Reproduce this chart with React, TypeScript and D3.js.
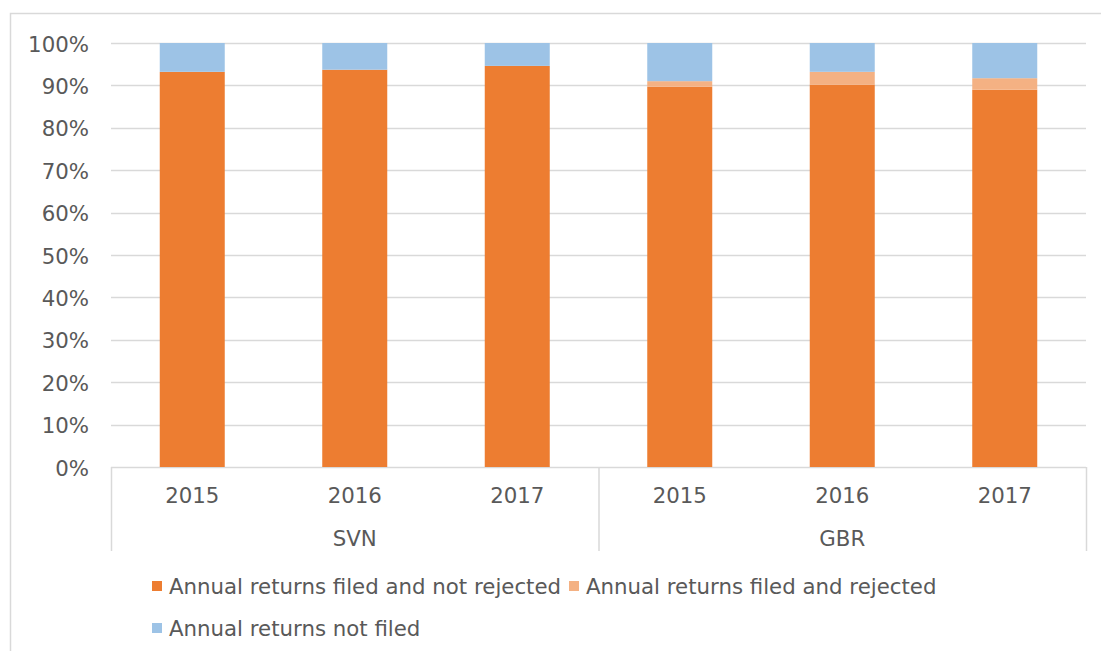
import React from "react";
import * as d3 from "d3";

const countries = ["SVN", "GBR"];
const years = ["2015", "2016", "2017"];
const seriesNames = [
  "Annual returns filed and not rejected",
  "Annual returns filed and rejected",
  "Annual returns not filed",
];
const seriesColors = ["#ED7D31", "#F4B183", "#9DC3E6"];
// values in order SVN 2015,2016,2017, GBR 2015,2016,2017
const filedNotRejected = [0.932, 0.937, 0.946, 0.897, 0.902, 0.89];
const filedRejected = [0, 0, 0, 0.013, 0.03, 0.027];
const notFiled = [0.068, 0.063, 0.054, 0.09, 0.068, 0.083];
const yTicks = [0, 0.1, 0.2, 0.3, 0.4, 0.5, 0.6, 0.7, 0.8, 0.9, 1.0];

const FONT = "'DejaVu Sans', Verdana, sans-serif";
const TEXT = "#595959";
const GRID = "#D9D9D9";
const FS = 21.3;

export default function App() {
  const keys: string[] = [];
  countries.forEach((c) => years.forEach((y) => keys.push(c + "-" + y)));
  const rows = keys.map((k, i) => ({
    key: k,
    s0: filedNotRejected[i],
    s1: filedRejected[i],
    s2: notFiled[i],
  }));
  const stacked = d3.stack<any>().keys(["s0", "s1", "s2"])(rows);

  const left = 111, right = 1086, top = 43, bottom = 467;
  const x = d3.scaleBand<string>().domain(keys).range([left, right]).paddingInner(0.6).paddingOuter(0.3);
  const y = d3.scaleLinear().domain([0, 1]).range([bottom, top]);
  const groupW = (right - left) / countries.length;

  return (
    <svg width={1101} height={651} style={{ position: "absolute", left: 0, top: 0 }} fontFamily={FONT}>
      <rect x={0} y={0} width={1101} height={651} fill="#fff" />
      <rect x={10.5} y={13.5} width={1100} height={660} fill="none" stroke={GRID} strokeWidth={1.5} />
      {yTicks.map((t) => (
        <g key={t}>
          <line x1={left} x2={right} y1={Math.round(y(t)) + 0.5} y2={Math.round(y(t)) + 0.5} stroke={GRID} strokeWidth={1.5} />
          <text x={89} y={y(t) + 1} dy="0.36em" textAnchor="end" fontSize={FS} fill={TEXT}>
            {d3.format(".0%")(t)}
          </text>
        </g>
      ))}
      {stacked.map((layer, li) =>
        layer.map((d, i) => {
          const h = y(d[0]) - y(d[1]);
          if (h <= 0) return null;
          return (
            <rect key={li + "-" + i} x={x(keys[i])} width={x.bandwidth()} y={y(d[1])} height={h} fill={seriesColors[li]} />
          );
        })
      )}
      {/* category axis */}
      {[0, 1, 2].map((i) => (
        <line key={i} x1={left + i * groupW + 0.5} x2={left + i * groupW + 0.5} y1={bottom} y2={551} stroke={GRID} strokeWidth={1.5} />
      ))}
      {keys.map((k, i) => (
        <text key={k} x={(x(k) as number) + x.bandwidth() / 2} y={503} textAnchor="middle" fontSize={FS} fill={TEXT}>
          {years[i % 3]}
        </text>
      ))}
      {countries.map((c, i) => (
        <text key={c} x={left + (i + 0.5) * groupW} y={546} textAnchor="middle" fontSize={FS} fill={TEXT}>
          {c}
        </text>
      ))}
      {/* legend */}
      {[
        { i: 0, sx: 152, cy: 586 },
        { i: 1, sx: 569, cy: 586 },
        { i: 2, sx: 152, cy: 628 },
      ].map(({ i, sx, cy }) => (
        <g key={i}>
          <rect x={sx} y={cy - 5} width={10} height={10} fill={seriesColors[i]} />
          <text x={sx + 17} y={cy} dy="0.36em" fontSize={FS} fill={TEXT}>
            {seriesNames[i]}
          </text>
        </g>
      ))}
    </svg>
  );
}
